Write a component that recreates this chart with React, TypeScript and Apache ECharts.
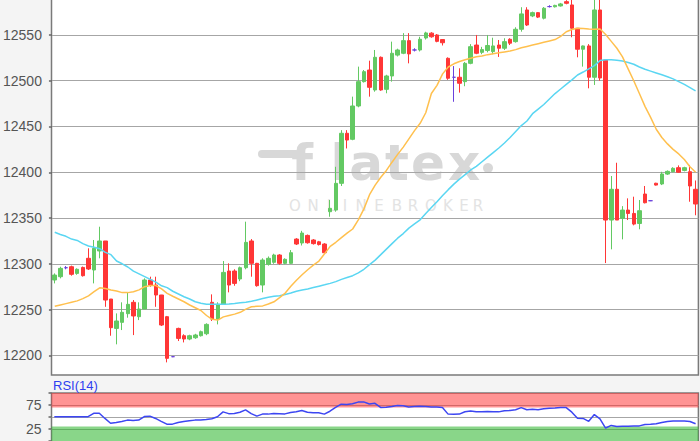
import React, { useEffect, useRef } from 'react';
import * as echarts from 'echarts';

const OPEN = [
  12282.3, 12285.9, 12295.7, 12296.8, 12289.5, 12296, 12306, 12293.2, 12314, 12324.9,
  12261.5, 12229.4, 12236, 12245.5, 12257.9, 12242.2, 12250.6, 12282.3, 12276.8, 12265.9,
  12242.2, 12198.5, 12229.4, 12221.4, 12217.8, 12219.2, 12221.4, 12223.6, 12257.9, 12239.6,
  12255.7, 12292.1, 12292.1, 12283.4, 12295.7, 12324.9, 12300.5, 12276.8, 12299.4, 12301.6,
  12309.6, 12300.5, 12300.5, 12327, 12322.7, 12331, 12326, 12324, 12321.6, 12356.9,
  12358.7, 12387.9, 12442.6, 12436, 12472.4, 12499, 12511.7, 12489.9, 12525.6, 12490.6,
  12505.2, 12528, 12530, 12543.8, 12533.6, 12533.6, 12546.7, 12552, 12550, 12545,
  12524.5, 12503.8, 12503.8, 12499, 12519, 12539, 12531, 12533, 12531.8, 12539,
  12535.5, 12545.3, 12542.7, 12556.2, 12577.3, 12570.8, 12574.4, 12568.3, 12581, 12580.8,
  12581.7, 12586.4, 12582.8, 12557.3, 12534.4, 12538, 12503.8, 12577.3, 12522.7, 12347.8,
  12381.4, 12349.7, 12358.7, 12355, 12344, 12376.2, 12368.9, 12388, 12387.2, 12398,
  12400.6, 12405, 12402, 12400.6, 12381.4,
];
const CLOSE = [
  12287.7, 12295, 12295.7, 12288.5, 12294, 12287, 12294.3, 12316.9, 12324.9, 12260.4,
  12230.2, 12237.5, 12247, 12255.7, 12243, 12250.6, 12282.3, 12276.8, 12265.9, 12233.1,
  12196.7, 12198.5, 12218.5, 12217.8, 12221.4, 12222.2, 12225.8, 12233.8, 12239.6, 12255.7,
  12290.6, 12276.8, 12278.6, 12295.7, 12323.4, 12300.5, 12276.1, 12304.1, 12306, 12309.6,
  12300.5, 12304.9, 12312.1, 12321.6, 12333.6, 12323, 12322, 12321, 12312.1, 12360.6,
  12387.9, 12442.6, 12435.2, 12472.4, 12499, 12509.9, 12492.8, 12525.6, 12489.9, 12505.2,
  12530, 12533.6, 12543.8, 12529.3, 12533.6, 12545.3, 12552.2, 12548, 12543, 12541.5,
  12502.7, 12503.8, 12497.2, 12519, 12537.2, 12530, 12534, 12538.5, 12538, 12535.5,
  12542.7, 12541, 12556.2, 12573, 12560.9, 12574.4, 12569.5, 12579.2, 12581, 12582.3,
  12583.9, 12584.6, 12557.3, 12534.4, 12538, 12503.8, 12577.3, 12503, 12347.8, 12381.4,
  12347.8, 12358.7, 12355, 12343.4, 12358, 12366.7, 12368.9, 12386, 12398.1, 12401,
  12404.3, 12400, 12405, 12385, 12365.3,
];
const LOW = [
  12278.6, 12284.1, 12294, 12287, 12288, 12286, 12293.2, 12278.6, 12306, 12253,
  12221.4, 12212, 12227.6, 12241.1, 12222.1, 12238.5, 12250.6, 12275, 12253, 12232,
  12192.3, 12198, 12215.6, 12214.1, 12216.5, 12218, 12220.5, 12222, 12237.5, 12233.8,
  12255.7, 12268.8, 12276, 12281, 12294, 12285.9, 12275, 12268.8, 12298, 12300,
  12299, 12299.5, 12300, 12320.5, 12320, 12322, 12321, 12320, 12311, 12351.4,
  12356.9, 12385, 12426, 12435, 12471, 12498, 12482.6, 12488, 12489, 12486.3,
  12499, 12526.5, 12529, 12519, 12532, 12532, 12545, 12547, 12542, 12538.5,
  12501, 12477, 12487, 12494, 12518, 12529, 12529, 12531, 12529, 12526,
  12533.6, 12539, 12541.6, 12553.6, 12559.8, 12569.5, 12568.5, 12567, 12580, 12580,
  12581, 12583.5, 12547.5, 12525.6, 12515.4, 12491.7, 12495.4, 12500, 12300.8, 12315.8,
  12347.8, 12326.7, 12347.8, 12342, 12337.7, 12366, 12368.5, 12385.5, 12386, 12397,
  12400, 12399.5, 12401, 12367.8, 12353,
];
const HIGH = [
  12289.5, 12296.8, 12297.5, 12298, 12295, 12297, 12316.9, 12326, 12340.5, 12324.9,
  12261.5, 12245.8, 12257.9, 12268.8, 12260.4, 12257.9, 12284.1, 12285.9, 12285.9, 12266,
  12243, 12199, 12230.2, 12223, 12222.5, 12223.5, 12227, 12235, 12266.6, 12257.9,
  12303, 12300.5, 12294, 12297, 12346, 12327, 12301, 12306, 12308, 12311,
  12310.5, 12306, 12315, 12328, 12336, 12332, 12327, 12325, 12322.5, 12369.7,
  12406, 12446, 12446, 12482.6, 12515.4, 12511.7, 12521.9, 12533.6, 12526.5, 12506.5,
  12542.7, 12535, 12552, 12552, 12535.5, 12548, 12553.5, 12553, 12551, 12545.5,
  12525.5, 12516, 12513.6, 12520.5, 12540, 12550, 12537, 12550, 12547, 12544.5,
  12546.4, 12546.4, 12558.4, 12580.3, 12580.3, 12575.5, 12575, 12580.5, 12582.5, 12583,
  12585, 12588, 12592, 12557.3, 12538.5, 12540, 12595, 12595, 12522.7, 12395.9,
  12410.4, 12363, 12371.5, 12373.3, 12369.7, 12385, 12369.5, 12388.5, 12400.5, 12402,
  12405.5, 12407.5, 12406, 12408, 12391,
];
const MA_FAST = [
  12253.5, 12255, 12256.5, 12258, 12259.5, 12262, 12265, 12269.5, 12273.8, 12273,
  12271.3, 12270.2, 12268.5, 12268.5, 12269.5, 12271.5, 12275, 12276.2, 12276.2, 12272.5,
  12267.7, 12264.5, 12261.5, 12258.5, 12255, 12252, 12249, 12243.5, 12239.3, 12238.5,
  12242, 12243.5, 12245, 12247, 12250.5, 12253, 12253.5, 12254, 12256, 12258.5,
  12263, 12268, 12275.5, 12282, 12288, 12293.5, 12298.5, 12303, 12311, 12319,
  12323.5, 12328.5, 12333.5, 12338, 12348, 12360, 12375.5, 12386, 12394.5, 12402,
  12411, 12419.5, 12427.5, 12436.5, 12445.5, 12453.5, 12465, 12486, 12495, 12507.5,
  12515, 12518.5, 12521, 12523, 12524.5, 12526.2, 12527, 12528.5, 12529.5, 12530.5,
  12531.5, 12532.5, 12534, 12536, 12537.5, 12539, 12540.5, 12542, 12543.5, 12545,
  12548.5, 12553.5, 12556, 12557.3, 12557, 12556.5, 12556.2, 12556.5, 12550.5, 12543,
  12535.5, 12526, 12513, 12500, 12486, 12472, 12460, 12447, 12438, 12431,
  12425, 12420, 12414, 12406, 12400,
];
const MA_SLOW = [
  12334.5, 12332, 12330, 12327, 12325.5, 12322, 12319.5, 12318, 12316.5, 12312.5,
  12310, 12303, 12300, 12296.5, 12292, 12289, 12286, 12283, 12280, 12276,
  12274, 12270, 12267, 12264, 12261.5, 12258.5, 12257, 12255.7, 12255.7, 12255.7,
  12255.7, 12256, 12256.5, 12257.5, 12258, 12259, 12260.5, 12262, 12263.5, 12264.5,
  12265.2, 12266.5, 12268, 12270, 12271.3, 12272.5, 12274, 12275.5, 12277, 12278.6,
  12280.5, 12283, 12285, 12287, 12290, 12294, 12299, 12304, 12310, 12316,
  12322, 12328, 12333, 12339, 12343.5, 12348, 12355, 12361.5, 12367.8, 12374.5,
  12381, 12387, 12392.5, 12397.5, 12402.5, 12406.5, 12411.5, 12416.5, 12421.5, 12426.5,
  12432, 12438, 12444.5, 12451, 12456, 12464, 12469, 12474, 12480, 12486,
  12491, 12496, 12501, 12506.3, 12509.5, 12513, 12516.5, 12522, 12523, 12523,
  12522.5, 12521.5, 12520, 12518, 12515, 12512.5, 12510.5, 12508.5, 12506.5, 12504.4,
  12502, 12499, 12496, 12492.5, 12489,
];
const RSI = [
  50.6, 50.6, 50.6, 50.6, 50.6, 50.6, 50.6, 57.7, 57.7, 47,
  36.9, 38.5, 40.5, 43.5, 42.6, 43.5, 51, 51.8, 47, 41,
  35.1, 35.1, 38.5, 40.5, 42, 43.5, 44, 45, 46.5, 50.6,
  60.7, 57, 57.5, 60, 64.9, 57, 51.8, 56, 56, 57.5,
  57, 56.5, 59.5, 61, 63.7, 60, 58.9, 58.9, 56, 62,
  70, 76.8, 76, 77.5, 81, 81.5, 77, 78.5, 70, 70.5,
  72, 73.8, 73.5, 71, 72, 72.6, 72, 71, 71, 69.6,
  56, 55.9, 56, 61, 62.5, 60.7, 61, 61.5, 60.7, 60.7,
  63, 63.7, 65, 69.6, 65, 66, 65, 67, 68, 68.5,
  69.6, 69.6, 60, 47.5, 47, 41, 55, 46, 27, 32.5,
  30, 30.5, 30.5, 31, 31.5, 34.5, 35.1, 36, 38.5, 40.5,
  41.7, 41.7, 41.7, 40.5, 36,
];
const RSI_LABELS = [25, 75];
const RSI_BANDS = [
  [70, 100],
  [0, 30],
];
const CATEGORIES = OPEN.map((_, i) => String(i + 1));

const GREEN = '#63c963';
const RED = '#ff3636';
const DOJI = '#6a40dc';
const FONT = '"Liberation Sans", Arial, sans-serif';

export default function App() {
  const ref = useRef<HTMLDivElement>(null);
  useEffect(() => {
    if (!ref.current) return;
    const chart = echarts.init(ref.current, null, { renderer: 'svg' });
    const L = 51.5;
    const W = 646.9;
    const candles = OPEN.map((o, i) => [o, CLOSE[i], LOW[i], HIGH[i]]);
    const WM = '#d8d8d8';
    const wmLetters = [
      { ch: 'f', x: 302 },
      { ch: 'l', x: 339 },
      { ch: 'a', x: 366 },
      { ch: 't', x: 397 },
      { ch: 'e', x: 428 },
      { ch: 'x', x: 464 },
    ];
    const subLetters = [
      { ch: 'O', x: 295 }, { ch: 'N', x: 313 }, { ch: 'L', x: 331 }, { ch: 'I', x: 345 },
      { ch: 'N', x: 361 }, { ch: 'E', x: 379 }, { ch: 'B', x: 397 }, { ch: 'R', x: 413 },
      { ch: 'O', x: 431 }, { ch: 'K', x: 448 }, { ch: 'E', x: 464 }, { ch: 'R', x: 478 },
    ];
    const graphic: any[] = [
      {
        type: 'rect', silent: true, z: -5,
        shape: { x: L, y: -3, width: W, height: 378 },
        style: { fill: '#ffffff', stroke: '#7a7a7a', lineWidth: 1.5 },
      },
      {
        type: 'rect', silent: true, z: -5,
        shape: { x: L, y: 393, width: W, height: 60 },
        style: { fill: '#ffffff', stroke: '#7a7a7a', lineWidth: 1.5 },
      },
      {
        type: 'line', silent: true, z: -4,
        shape: { x1: 262, y1: 154, x2: 296, y2: 154 },
        style: { stroke: WM, lineWidth: 8, lineCap: 'round' },
      },
      {
        type: 'circle', silent: true, z: -4,
        shape: { cx: 488, cy: 168, r: 5 },
        style: { fill: WM },
      },
      ...wmLetters.map((l) => ({
        type: 'text', silent: true, z: -4, x: l.x, y: 163,
        style: {
          text: l.ch, fill: WM, font: 'bold 50px "DejaVu Sans", sans-serif',
          align: 'center', verticalAlign: 'middle', textAlign: 'center', textVerticalAlign: 'middle',
        },
      })),
      ...subLetters.map((l) => ({
        type: 'text', silent: true, z: -4, x: l.x, y: 206,
        style: {
          text: l.ch, fill: '#e3e3e3', font: '15px "DejaVu Sans", sans-serif',
          align: 'center', verticalAlign: 'middle', textAlign: 'center', textVerticalAlign: 'middle',
        },
      })),
      {
        type: 'text', silent: true, x: 53, y: 385,
        style: {
          text: 'RSI(14)', fill: '#2f3ff0', font: '13px ' + FONT,
          align: 'left', verticalAlign: 'middle', textAlign: 'left', textVerticalAlign: 'middle',
        },
      },
    ];

    const hiddenX = {
      type: 'category', data: CATEGORIES, boundaryGap: true,
      axisLine: { show: false }, axisTick: { show: false },
      axisLabel: { show: false }, splitLine: { show: false },
    };

    const option: any = {
      animation: false,
      backgroundColor: '#f4f4f4',
      grid: [
        { left: L, top: 0, width: W, height: 375 },
        { left: L, top: 393, width: W, height: 56 },
      ],
      xAxis: [
        { ...hiddenX, gridIndex: 0 },
        { ...hiddenX, gridIndex: 1 },
      ],
      yAxis: [
        {
          type: 'value', gridIndex: 0, min: 12178.5, max: 12588.2, splitNumber: 8,
          axisLine: { show: false },
          axisTick: { show: true, length: 3, lineStyle: { color: '#666', width: 1.5 } },
          axisLabel: {
            color: '#555', fontSize: 14, fontFamily: FONT, margin: 10,
            showMinLabel: false, showMaxLabel: false,
            formatter: (v: number) => String(Math.round(v)),
          },
          splitLine: { show: true, showMinLine: false, showMaxLine: false, lineStyle: { color: '#a6a6a6', width: 1.2 } },
        },
        {
          type: 'value', gridIndex: 1, min: 0, max: 100, interval: 25,
          axisLine: { show: false },
          axisTick: { show: true, length: 3, lineStyle: { color: '#666', width: 1.5 } },
          axisLabel: {
            color: '#555', fontSize: 14, fontFamily: FONT, margin: 10,
            formatter: (v: number) => (RSI_LABELS.includes(v) ? String(v) : ''),
          },
          splitLine: { show: true, showMinLine: false, showMaxLine: false, lineStyle: { color: '#a6a6a6', width: 1.2 } },
        },
      ],
      graphic,
      series: [
        {
          type: 'candlestick', xAxisIndex: 0, yAxisIndex: 0, data: candles, barWidth: 4,
          itemStyle: {
            color: GREEN, color0: RED, borderColor: GREEN, borderColor0: RED,
            borderColorDoji: DOJI, borderWidth: 1,
          },
        },
        {
          type: 'line', xAxisIndex: 0, yAxisIndex: 0, data: MA_SLOW, symbol: 'none',
          lineStyle: { color: '#5ad6f2', width: 1.5 }, z: 3,
        },
        {
          type: 'line', xAxisIndex: 0, yAxisIndex: 0, data: MA_FAST, symbol: 'none',
          lineStyle: { color: '#ffc04e', width: 1.5 }, z: 3,
        },
        {
          type: 'line', xAxisIndex: 1, yAxisIndex: 1, data: RSI, symbol: 'none',
          lineStyle: { color: '#3c46f2', width: 1.5 }, z: 4,
          markArea: {
            silent: true,
            data: [
              [
                { yAxis: RSI_BANDS[0][0], itemStyle: { color: 'rgba(255,40,40,0.5)' } },
                { yAxis: RSI_BANDS[0][1] },
              ],
              [
                { yAxis: RSI_BANDS[1][0], itemStyle: { color: 'rgba(40,180,40,0.55)' } },
                { yAxis: RSI_BANDS[1][1] },
              ],
            ],
          },
        },
      ],
    };
    chart.setOption(option);
    return () => chart.dispose();
  }, []);
  return (
    <div
      ref={ref}
      style={{ position: 'fixed', left: 0, top: 0, width: 700, height: 441 }}
    />
  );
}
